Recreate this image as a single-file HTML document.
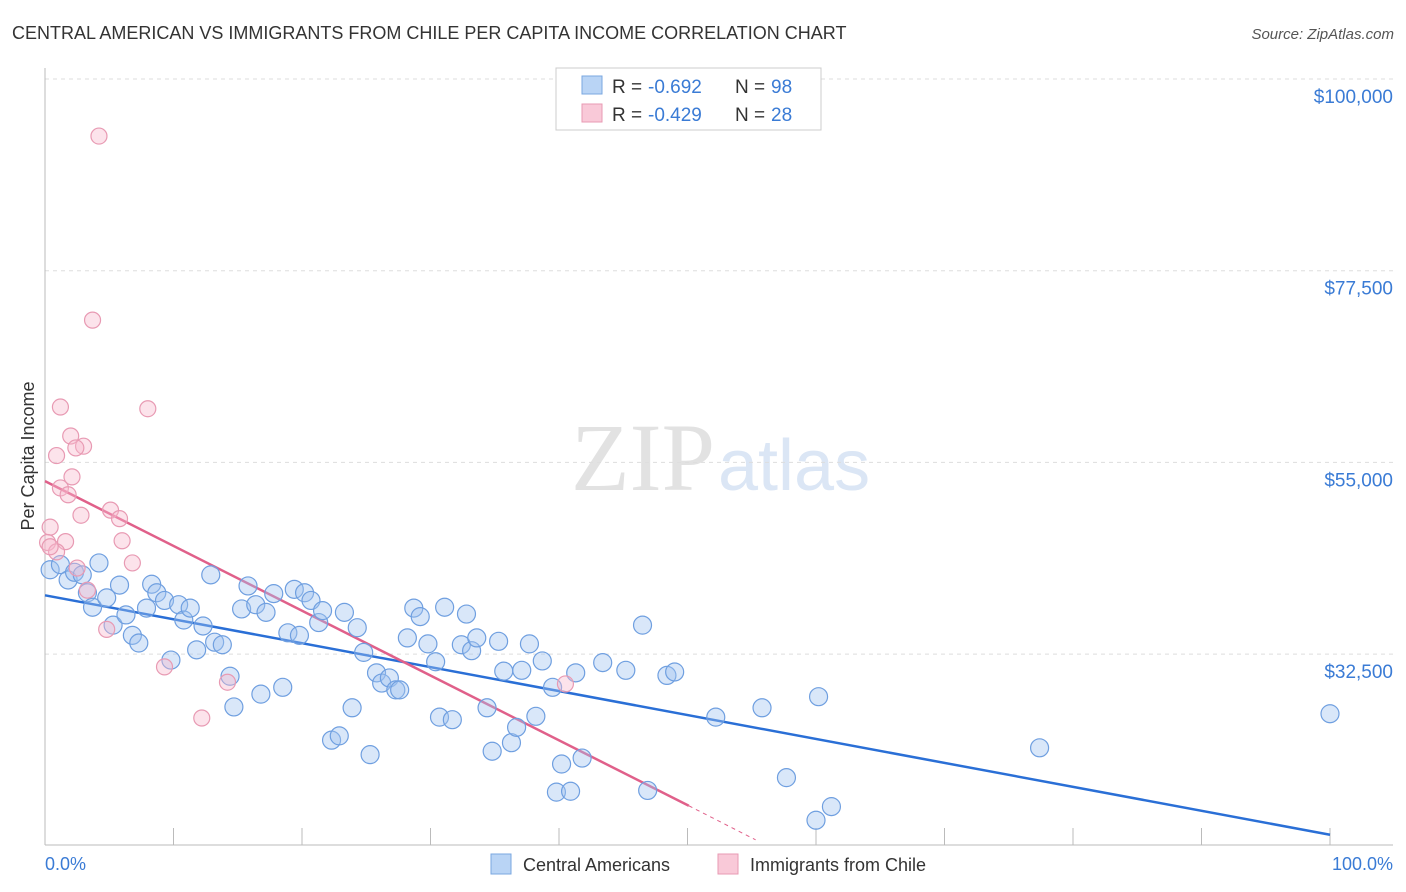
<!DOCTYPE html>
<html><head><meta charset="utf-8"><style>
body{margin:0;background:#fff;font-family:"Liberation Sans",sans-serif;}
svg{display:block}
</style></head><body>
<svg width="1406" height="892" xmlns="http://www.w3.org/2000/svg">
<text x="12" y="39" font-size="18" fill="#333">CENTRAL AMERICAN VS IMMIGRANTS FROM CHILE PER CAPITA INCOME CORRELATION CHART</text>
<text x="1394" y="39" font-size="15" fill="#555" font-style="italic" text-anchor="end">Source: ZipAtlas.com</text>
<text x="715" y="490" font-size="96" fill="#e2e2e2" font-family="Liberation Serif,serif" text-anchor="end">ZIP</text>
<text x="718" y="490" font-size="72" fill="#dbe6f5">atlas</text>
<g id="grid"></g><g id="axes"></g><g id="lines"></g><g id="pts"></g>
<text transform="translate(34,456) rotate(-90)" font-size="18" fill="#333" text-anchor="middle">Per Capita Income</text>
<text x="45" y="870" font-size="18" fill="#3a7bd5">0.0%</text>
<text x="1393" y="870" font-size="18" fill="#3a7bd5" text-anchor="end">100.0%</text>
<g>
<rect x="556" y="68" width="265" height="62" fill="#fff" stroke="#ccc"/>
<rect x="582" y="76" width="20" height="18" fill="#b9d4f5" stroke="#7aa7e0"/>
<rect x="582" y="104" width="20" height="18" fill="#f9c9d8" stroke="#e89ab3"/>
<text x="612" y="93" font-size="19" fill="#333">R =</text><text x="648" y="93" font-size="19" fill="#3a7bd5">-0.692</text>
<text x="735" y="93" font-size="19" fill="#333">N =</text><text x="771" y="93" font-size="19" fill="#3a7bd5">98</text>
<text x="612" y="121" font-size="19" fill="#333">R =</text><text x="648" y="121" font-size="19" fill="#3a7bd5">-0.429</text>
<text x="735" y="121" font-size="19" fill="#333">N =</text><text x="771" y="121" font-size="19" fill="#3a7bd5">28</text>
</g>
<g>
<rect x="491" y="854" width="20" height="20" fill="#b9d4f5" stroke="#7aa7e0"/>
<text x="523" y="871" font-size="18" fill="#333">Central Americans</text>
<rect x="718" y="854" width="20" height="20" fill="#f9c9d8" stroke="#e89ab3"/>
<text x="750" y="871" font-size="18" fill="#333">Immigrants from Chile</text>
</g>
</svg>
<script>
const yTicks=[100000,77500,55000,32500];
const yTickLabels=["$100,000","$77,500","$55,000","$32,500"];
const blueX=[0.4,1.2,1.8,2.3,2.9,3.3,3.7,4.2,4.8,5.3,5.8,6.3,6.8,7.3,8.3,7.9,8.7,9.3,9.8,10.4,10.8,11.3,11.8,12.3,12.9,13.2,13.8,14.4,14.7,15.3,15.8,16.4,16.8,17.2,17.8,18.5,18.9,19.4,19.8,20.2,20.7,21.3,21.6,22.3,22.9,23.3,23.9,24.3,24.8,25.3,25.8,26.2,26.8,27.3,27.6,28.2,28.7,29.2,29.8,30.4,30.7,31.1,31.7,32.4,32.8,33.2,33.6,34.4,34.8,35.3,35.7,36.3,36.7,37.1,37.7,38.2,38.7,39.5,39.8,40.2,40.9,41.3,41.8,43.4,45.2,46.5,46.9,48.4,49.0,52.2,55.8,57.7,60.0,60.2,61.2,77.4,100.0];
const blueY=[42.4,43.0,41.2,42.1,41.8,39.7,38.0,43.2,39.1,35.9,40.6,37.1,34.7,33.8,40.7,37.9,39.7,38.8,31.8,38.3,36.5,37.9,33.0,35.8,41.8,33.9,33.6,29.9,26.3,37.8,40.5,38.3,27.8,37.4,39.6,28.6,35.0,40.1,34.7,39.7,38.8,36.2,37.6,22.4,22.9,37.4,26.2,35.6,32.7,20.7,30.3,29.1,29.7,28.3,28.3,34.4,37.9,36.9,33.7,31.6,25.1,38.0,24.8,33.6,37.2,32.9,34.4,26.2,21.1,34.0,30.5,22.1,23.9,30.6,33.7,25.2,31.7,28.6,16.3,19.6,16.4,30.3,20.3,31.5,30.6,35.9,16.5,30.0,30.4,25.1,26.2,18.0,13.0,27.5,14.6,21.5,25.5];
const pinkX=[4.2,3.7,1.2,8.0,2.0,3.0,2.4,0.9,2.1,1.2,1.8,2.8,5.1,5.8,0.4,6.0,0.2,1.6,0.9,0.4,6.8,2.5,3.3,4.8,9.3,14.2,12.2,40.5];
const pinkY=[93.3,71.7,61.5,61.3,58.1,56.9,56.7,55.8,53.3,52.0,51.2,48.8,49.4,48.4,47.4,45.8,45.6,45.7,44.5,45.1,43.2,42.6,40.0,35.4,31.0,29.2,25.0,29.0];
const blueTrend=[[0,39.4],[100,11.3]];
const pinkTrend=[[0,52.8],[50.1,14.7]];
const pinkDash=[[50.1,14.7],[55.3,10.7]];
const NS="http://www.w3.org/2000/svg";
const sx=p=>45+p*12.85;
const sy=v=>79+(100000-v)*191.7/22500;
const syk=k=>sy(k*1000);
function mk(t,a,parent){const e=document.createElementNS(NS,t);for(const k in a)e.setAttribute(k,a[k]);document.getElementById(parent).appendChild(e);return e;}
yTicks.forEach((v,i)=>{
 const l=mk('line',{x1:45,x2:1393,y1:sy(v),y2:sy(v),stroke:'#ddd','stroke-dasharray':'4,4'},'grid');
 
 
 const t=mk('text',{x:1393,y:sy(v)+24,'font-size':19,fill:'#3a7bd5','text-anchor':'end'},'grid');
 t.textContent=yTickLabels[i];
 
 
});
const ya=mk('line',{x1:45,x2:45,y1:68,y2:845,stroke:'#bbb'},'axes');


const xa=mk('line',{x1:45,x2:1393,y1:845,y2:845,stroke:'#bbb'},'axes');


for(let i=0;i<=10;i++){const t=mk('line',{x1:sx(i*10),x2:sx(i*10),y1:828,y2:845,stroke:'#bbb'},'axes');
 
 }
const bl=mk('line',{x1:sx(blueTrend[0][0]),y1:syk(blueTrend[0][1]),x2:sx(blueTrend[1][0]),y2:syk(blueTrend[1][1]),stroke:'#2a6fd6','stroke-width':2.5},'lines');


const pl=mk('line',{x1:sx(pinkTrend[0][0]),y1:syk(pinkTrend[0][1]),x2:sx(pinkTrend[1][0]),y2:syk(pinkTrend[1][1]),stroke:'#e0608a','stroke-width':2.5},'lines');


const pd=mk('line',{x1:sx(pinkDash[0][0]),y1:syk(pinkDash[0][1]),x2:sx(pinkDash[1][0]),y2:syk(pinkDash[1][1]),stroke:'#e0608a','stroke-width':1,'stroke-dasharray':'4,4'},'lines');


blueX.forEach((x,i)=>{const c=mk('circle',{cx:sx(x),cy:syk(blueY[i]),r:9,fill:'rgba(160,196,240,0.4)',stroke:'#6f9fe0','stroke-width':1.2},'pts');
 
 });
pinkX.forEach((x,i)=>{const c=mk('circle',{cx:sx(x),cy:syk(pinkY[i]),r:8,fill:'rgba(248,185,205,0.4)',stroke:'#e89ab3','stroke-width':1.2},'pts');
 
 });
</script>
</body></html>
